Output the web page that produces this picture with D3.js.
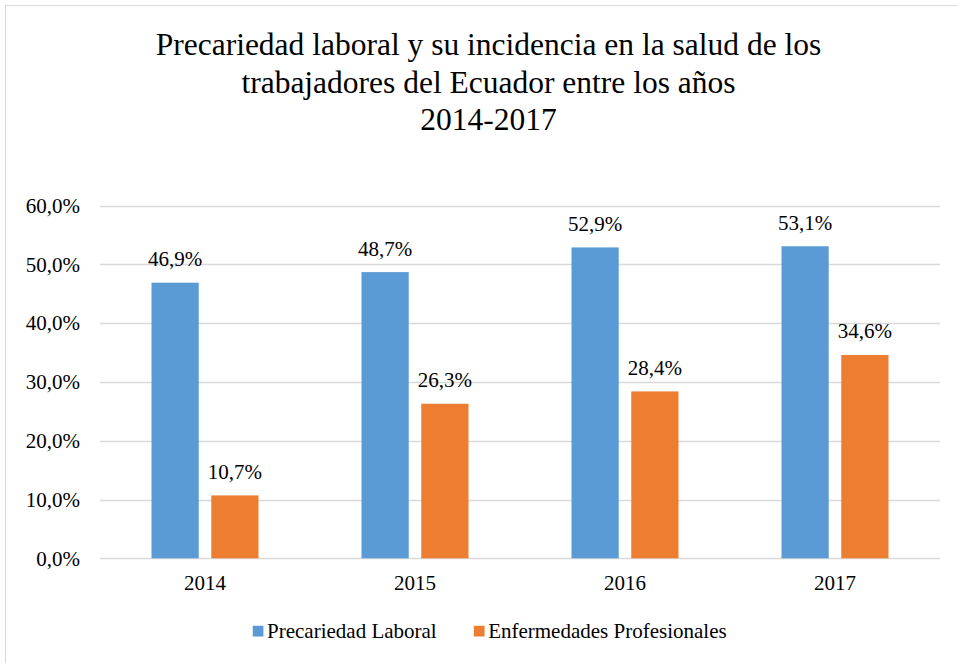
<!DOCTYPE html>
<html>
<head>
<meta charset="utf-8">
<script src="https://cdn.jsdelivr.net/npm/d3@7"></script>
<style>
  svg text { font-family: "Liberation Serif", serif; }
</style>
</head>
<body style="margin:0;padding:0;background:#fff">
<svg id="chart" width="957" height="663" style="display:block" font-family="Liberation Serif"></svg>
<script>
const titleLines = ["Precariedad laboral y su incidencia en la salud de los", "trabajadores del Ecuador entre los años", "2014-2017"];
const categories = ["2014", "2015", "2016", "2017"];
const seriesNames = ["Precariedad Laboral", "Enfermedades Profesionales"];
const precariedad = [46.9, 48.7, 52.9, 53.1];
const enfermedades = [10.7, 26.3, 28.4, 34.6];
const yTicks = [0, 10, 20, 30, 40, 50, 60];
const colors = ["#5B9BD5", "#ED7D31"];

(function () {
const FONT = "Liberation Serif";
const seriesValues = [precariedad, enfermedades];
const fmt = v => v.toFixed(1).replace(".", ",") + "%";

const svg = d3.select("#chart");

function serif(sel, size) {
  return sel.attr("font-family", FONT).style("font-family", FONT)
    .attr("font-size", size).attr("fill", "#000");
}

// chart border
svg.append("rect")
  .attr("x", 5.5).attr("y", 5.5).attr("width", 1000).attr("height", 700)
  .attr("fill", "#fff").attr("stroke", "#d9d9d9").attr("stroke-width", 1);

// title
const title = serif(svg.append("text").attr("text-anchor", "middle"), 31.5);
titleLines.forEach((t, i) => {
  title.append("tspan").attr("x", 488.5).attr("y", 55 + i * 37.5).text(t);
});

const pLeft = 100, pRight = 940, pTop = 205.7, pBottom = 558.3;

const x = d3.scaleBand().domain(categories).range([pLeft, pRight]).padding(0);
const xs = d3.scaleBand().domain(seriesNames)
  .range([x.bandwidth() / 2 - 53.5, x.bandwidth() / 2 + 53.5])
  .paddingInner(0.21).paddingOuter(0);
const y = d3.scaleLinear().domain([0, 60]).range([pBottom, pTop]);

// gridlines
svg.append("g").selectAll("line").data(yTicks).join("line")
  .attr("x1", pLeft).attr("x2", pRight)
  .attr("y1", d => Math.round(y(d)) + 0.5).attr("y2", d => Math.round(y(d)) + 0.5)
  .attr("stroke", "#d9d9d9").attr("stroke-width", 1.3);

// y axis labels
const yAxis = d3.axisLeft(y).tickValues(yTicks).tickFormat(fmt).tickSize(0).tickPadding(20);
const gy = svg.append("g").attr("transform", `translate(${pLeft},0)`).call(yAxis);
gy.attr("font-family", FONT).attr("font-size", 21);
gy.select(".domain").remove();
serif(gy.selectAll("text"), 21);

// x axis labels
const xAxis = d3.axisBottom(x).tickSize(0).tickPadding(16.5);
const gx = svg.append("g").attr("transform", `translate(0,${pBottom})`).call(xAxis);
gx.attr("font-family", FONT).attr("font-size", 21);
gx.select(".domain").remove();
serif(gx.selectAll("text"), 21);

// bars
const flat = [];
categories.forEach((c, i) => seriesNames.forEach((s, j) => flat.push({c, s, j, v: seriesValues[j][i]})));

svg.append("g").selectAll("rect").data(flat).join("rect")
  .attr("x", d => x(d.c) + xs(d.s))
  .attr("width", xs.bandwidth())
  .attr("y", d => y(d.v))
  .attr("height", d => y(0) - y(d.v))
  .attr("fill", d => colors[d.j]);

// data labels
serif(svg.append("g").selectAll("text").data(flat).join("text"), 21)
  .attr("x", d => x(d.c) + xs(d.s) + xs.bandwidth() / 2)
  .attr("y", d => y(d.v) - 16.5)
  .attr("text-anchor", "middle")
  .text(d => fmt(d.v));

// legend
const legend = svg.append("g");
const items = legend.selectAll("g").data(seriesNames).join("g");
items.append("rect").attr("width", 10.7).attr("height", 10.7).attr("y", 625.8)
  .attr("fill", (d, i) => colors[i]);
serif(items.append("text"), 21).attr("x", 14.3).attr("y", 637.5).text(d => d);
const widths = [];
items.each(function () { widths.push(this.getBBox().width); });
const gap = 37;
const total = d3.sum(widths) + gap * (widths.length - 1);
let start = 489.7 - total / 2;
items.attr("transform", (d, i) => {
  const tx = start; start += widths[i] + gap; return `translate(${tx},0)`;
});
})();
</script>
</body>
</html>
